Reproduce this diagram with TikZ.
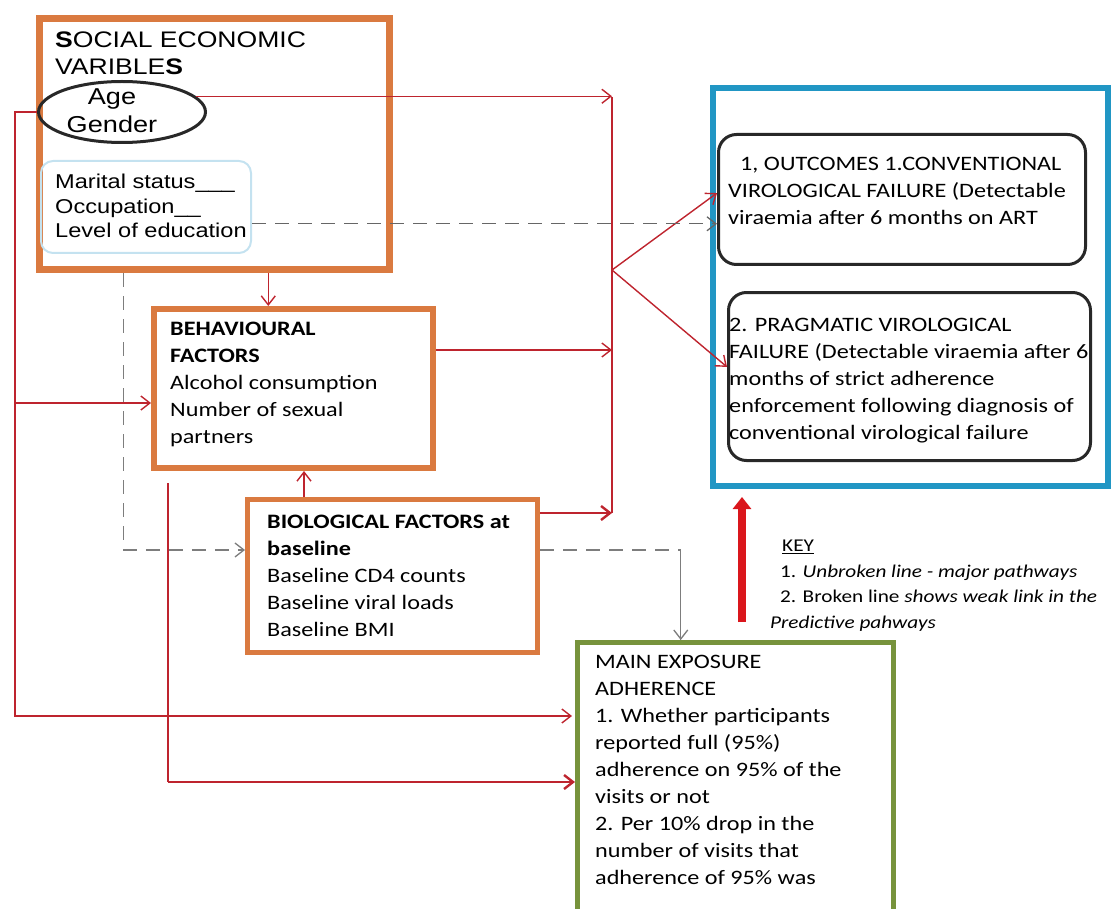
\documentclass[tikz,border=0pt]{standalone}
\usepackage{fontspec}
\setmainfont{Carlito}[FakeStretch = 1.18]
\newfontfamily\arialfont{Liberation Sans}[FakeStretch = 1.18]
\usepackage{tikz}
\usetikzlibrary{arrows.meta}
\usetikzlibrary{shapes.geometric}
\usetikzlibrary{calc}
\definecolor{boxorange}{RGB}{218, 122, 64}
\definecolor{boxblue}{RGB}{33, 150, 196}
\definecolor{boxgreen}{RGB}{119, 147, 60}
\definecolor{paleblue}{RGB}{196, 226, 240}
\definecolor{boxblack}{RGB}{40, 40, 40}
\definecolor{linkred}{RGB}{190, 36, 46}
\definecolor{keyred}{RGB}{218, 22, 28}
\definecolor{linkgray}{RGB}{125, 125, 125}
\newcommand{\sestitle}{\arialfont\fontsize{22.5}{27}\selectfont}
\newcommand{\sesbody}{\arialfont\fontsize{20}{24.5}\selectfont}
\newcommand{\sesage}{\arialfont\fontsize{23}{28}\selectfont}
\newcommand{\bodytext}{\fontsize{20.5}{27}\selectfont}
\newcommand{\keytext}{\fontsize{18}{25.5}\selectfont}
\tikzset{
    factorbox/.style = {draw = boxorange, line width = 6pt, anchor = north west, inner sep = 0pt},
    outcomebox/.style = {draw = boxblack, line width = 3pt, rounded corners = 18pt, anchor = north west, inner sep = 0pt},
    boxtext/.style = {anchor = north west, align = left, inner sep = 0pt, text = black, font = \bodytext},
    major/.style = {draw = linkred, line width = 1.4pt, -{Straight Barb[length = 9pt, width = 14pt]}},
    weak/.style = {draw = linkgray, line width = 1.3pt, dash pattern = on 14pt off 9pt, -{Straight Barb[length = 9pt, width = 14pt]}}
}
\begin{document}
\begin{tikzpicture}[x = 1pt, y = -1pt]
    \useasboundingbox (0, 0) rectangle (1113, 909);
    \node [factorbox, line width = 7pt, minimum width = 350, minimum height = 251] (socio) at (36, 15) {};
    \node [boxtext, font = \sestitle] (sociotitle) at (55, 32) {\textbf{S}OCIAL ECONOMIC\\VARIBLE\textbf{S}};
    \node [ellipse, draw = boxblack, line width = 3pt, minimum width = 167, minimum height = 61, inner sep = 0pt] (agegen) at (122, 112) {};
    \node [align = center, inner sep = 0pt, text = black, font = \sesage] (agetext) at (112, 111) {Age\\Gender};
    \node [draw = paleblue, line width = 2pt, rounded corners = 12pt, minimum width = 210, minimum height = 92, anchor = north west] (marital) at (40, 160) {};
    \node [boxtext, font = \sesbody] (maritaltext) at (55, 174) {Marital status\_\_\_\\Occupation\_\_\\Level of education};
    \node [factorbox, minimum width = 279, minimum height = 159] (behav) at (151, 306) {};
    \node [boxtext] (behavtext) at (170, 322) {\textbf{BEHAVIOURAL}\\\textbf{FACTORS}\\Alcohol consumption\\Number of sexual\\partners};
    \node [factorbox, line width = 5pt, minimum width = 290, minimum height = 153] (bio) at (245, 497) {};
    \node [boxtext] (biotext) at (267, 515) {\textbf{BIOLOGICAL FACTORS at}\\\textbf{baseline}\\Baseline CD4 counts\\Baseline viral loads\\Baseline BMI};
    \node [factorbox, draw = boxgreen, line width = 4.5pt, minimum width = 316, minimum height = 300] (mainex) at (575, 640) {};
    \node [boxtext] (mainextext) at (595, 655) {MAIN EXPOSURE\\ADHERENCE\\1. Whether participants\\reported full (95\%)\\adherence on 95\% of the\\visits or not\\2. Per 10\% drop in the\\number of visits that\\adherence of 95\% was};
    \node [factorbox, draw = boxblue, minimum width = 395, minimum height = 398] (outcomes) at (710, 85) {};
    \node [outcomebox, minimum width = 367, minimum height = 130] (conv) at (717, 133) {};
    \node [boxtext] (convtext) at (728, 157) {\hspace*{12pt}1, OUTCOMES 1.CONVENTIONAL\\VIROLOGICAL FAILURE (Detectable\\viraemia after 6 months on ART};
    \node [outcomebox, minimum width = 362, minimum height = 168] (prag) at (727, 291) {};
    \node [boxtext] (pragtext) at (729, 318) {2. PRAGMATIC VIROLOGICAL\\FAILURE (Detectable viraemia after 6\\months of strict adherence\\enforcement following diagnosis of\\conventional virological failure};
    \node [boxtext, font = \keytext] (key) at (770, 540) {\hspace*{12pt}\underline{KEY}\\\hspace*{10pt}1. \textit{Unbroken line - major pathways}\\\hspace*{10pt}2. Broken line \textit{shows weak link in the}\\\textit{Predictive pahways}};
    \coordinate (bustop) at (612, 97);
    \coordinate (busmid) at (612, 350);
    \coordinate (fork) at (612, 270);
    \coordinate (busfoot) at (612, 513);
    \coordinate (leftfoot) at (15, 716);
    \coordinate (leftmid) at (15, 403);
    \coordinate (midtop) at (168, 483);
    \coordinate (midfoot) at (168, 782);
    \coordinate (keyfoot) at (742, 622);
    \draw [major] (agegen.12) -- (agegen.12 -| bustop);
    \draw [linkred, line width = 1.4pt] (bustop) -- (busfoot);
    \draw [major] (busmid -| behav.east) -- (busmid);
    \draw [major, line width = 2.4pt] (busfoot -| bio.east) -- (busfoot);
    \draw [major] (fork) -- (conv.178);
    \draw [major] (fork) -- (prag.177);
    \draw [major] (agegen.west) -| (leftfoot) -- ([xshift = -3pt] leftfoot -| mainex.west);
    \draw [major] (leftmid) -- (leftmid -| behav.west);
    \draw [linkred, line width = 1.4pt] (midtop) -- (midfoot);
    \draw [major, line width = 2.4pt] (midfoot) -- (midfoot -| mainex.west);
    \draw [major] (socio.south -| behav.107) -- (behav.107);
    \draw [major] ($(bio.north west)!0.2!(bio.north east)$) coordinate (bioup) -- (bioup |- behav.south);
    \draw [weak] ($(socio.south west)!0.246!(socio.south east)$) |- (bio.170);
    \draw [weak, -] (bio.10) -| ($(mainex.north west)!0.33!(mainex.north east)$) coordinate (maindrop);
    \draw [weak, solid] (bio.10 -| maindrop) -- (maindrop);
    \draw [weak, draw = black!60] (marital.351) -- (marital.351 -| conv.west);
    \draw [keyred, line width = 8pt, -{Triangle[length = 12pt, width = 18pt]}] (keyfoot) -- ++(0, -125);
\end{tikzpicture}
\end{document}
